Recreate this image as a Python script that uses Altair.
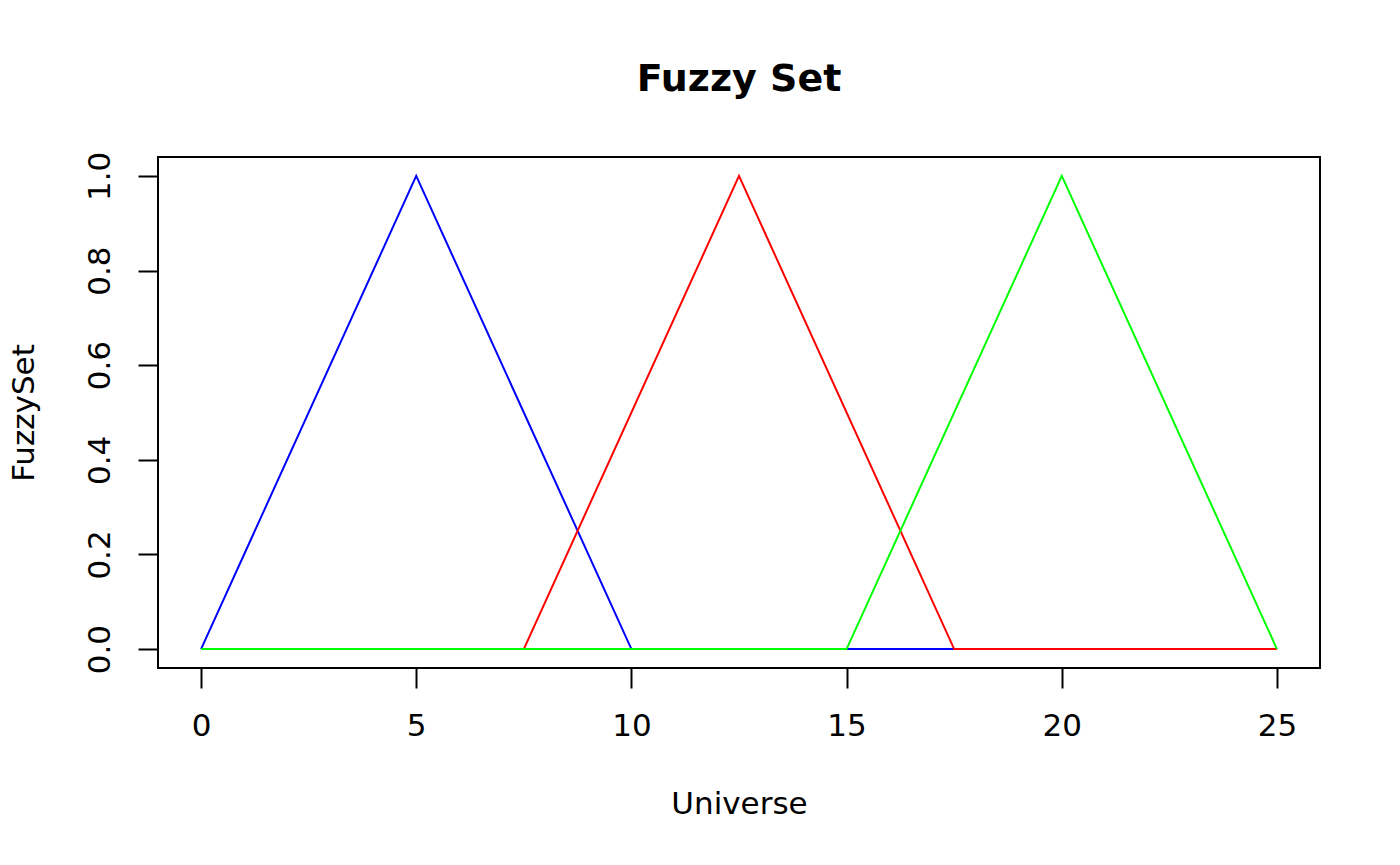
import altair as alt
import pandas as pd

# Data
blue_x = [0, 5, 10, 17.5]
blue_y = [0, 1, 0, 0]
red_x = [7.5, 12.5, 17.5, 25]
red_y = [0, 1, 0, 0]
green_x = [0, 15, 20, 25]
green_y = [0, 0, 1, 0]
x_ticks = [0, 5, 10, 15, 20, 25]
y_ticks = [0.0, 0.2, 0.4, 0.6, 0.8, 1.0]

FONT = "DejaVu Sans"

def series(xs, ys, name):
    return pd.DataFrame({"x": xs, "y": ys, "set": name, "i": range(len(xs))})

xs = alt.Scale(domain=[-1, 26], nice=False, zero=False)
ys = alt.Scale(domain=[-0.04, 1.04], nice=False, zero=False)

x_axis = alt.Axis(values=x_ticks, title="Universe", grid=False, domain=False,
                  tickColor="black", tickSize=20, tickWidth=2,
                  labelFont=FONT, labelFontSize=31, labelColor="black", labelPadding=23,
                  titleFont=FONT, titleFontSize=31, titleFontWeight="normal",
                  titleColor="black", titlePadding=48)
y_axis = alt.Axis(values=y_ticks, title="FuzzySet", format=".1f", grid=False, domain=False,
                  tickColor="black", tickSize=20, tickWidth=2,
                  labelFont=FONT, labelFontSize=31, labelColor="black", labelPadding=22,
                  labelAngle=270, labelAlign="center", labelBaseline="bottom",
                  titleFont=FONT, titleFontSize=31, titleFontWeight="normal",
                  titleColor="black", titlePadding=44)

def line(df, color):
    return alt.Chart(df).mark_line(color=color, strokeWidth=2).encode(
        x=alt.X("x:Q", scale=xs, axis=x_axis),
        y=alt.Y("y:Q", scale=ys, axis=y_axis),
        order="i:Q",
    )

chart = alt.layer(
    line(series(blue_x, blue_y, "blue"), "#0000FF"),
    line(series(red_x, red_y, "red"), "#FF0000"),
    line(series(green_x, green_y, "green"), "#00FF00"),
).properties(
    width=1162, height=511,
    background="white",
    title=alt.TitleParams("Fuzzy Set", font=FONT, fontSize=38, fontWeight="bold",
                          color="black", anchor="middle", offset=52),
    autosize=alt.AutoSizeParams(type="none"),
    padding={"left": 150, "top": 149, "right": 72, "bottom": 180},
).configure_view(stroke="black", strokeWidth=2)

chart.save("out.html", embed_options={"renderer": "svg", "actions": False})
